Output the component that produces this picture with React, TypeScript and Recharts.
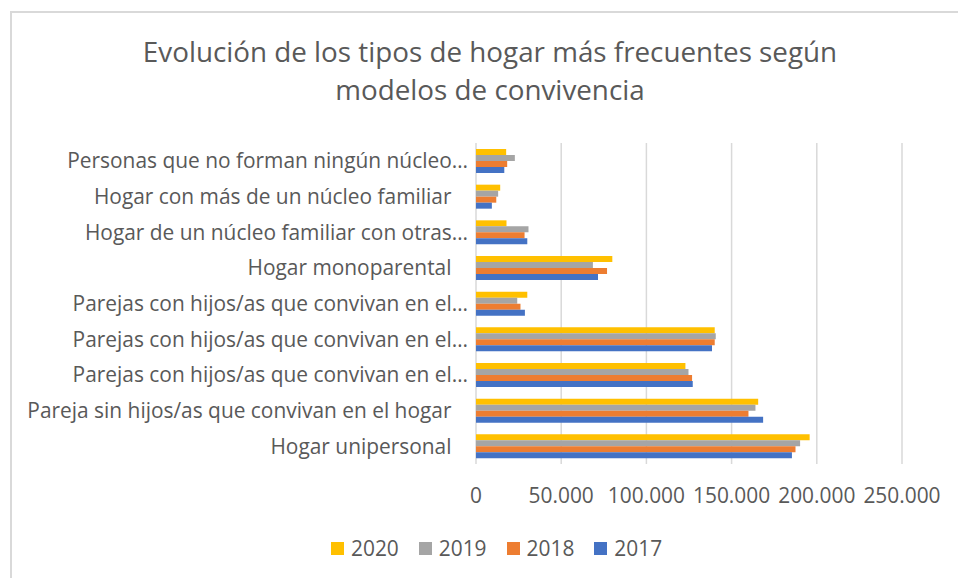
import { BarChart, Bar, XAxis, YAxis, CartesianGrid } from "recharts";

const categories = [
  "Personas que no forman ningún núcleo…",
  "Hogar con más de un núcleo familiar",
  "Hogar de un núcleo familiar con otras…",
  "Hogar monoparental",
  "Parejas con hijos/as que convivan en el…",
  "Parejas con hijos/as que convivan en el…",
  "Parejas con hijos/as que convivan en el…",
  "Pareja sin hijos/as que convivan en el hogar",
  "Hogar unipersonal",
];

const values2020 = [17700, 14200, 17900, 80000, 30100, 140100, 122900, 165600, 195800];
const values2019 = [22800, 13000, 30800, 68600, 24200, 140700, 124700, 164000, 190200];
const values2018 = [18300, 11900, 28500, 76900, 26100, 140100, 126800, 159900, 187500];
const values2017 = [16600, 9300, 30100, 71600, 28700, 138500, 127200, 168500, 185400];

const years = ["2020", "2019", "2018", "2017"];
const colors = ["#FFC000", "#A5A5A5", "#ED7D31", "#4472C4"];
const xTicks = [0, 50000, 100000, 150000, 200000, 250000];

const data = categories.map((name, i) => ({
  name,
  "2020": values2020[i],
  "2019": values2019[i],
  "2018": values2018[i],
  "2017": values2017[i],
}));

const FONT = "'Open Sans', sans-serif";
const TEXT = "#595959";

const fmt = (v: number) => String(v).replace(/\B(?=(\d{3})+(?!\d))/g, ".");

// excel puts the cut labels a bit further right (the "…" hangs past the others)
const CategoryTick = (props: any) => {
  const { x, y, payload } = props;
  const label: string = payload.value;
  const cut = label.endsWith("…");
  return (
    <text
      x={cut ? x : x - 16.5}
      y={y}
      dy="0.355em"
      textAnchor="end"
      fill={TEXT}
      fontSize={20.9}
      fontFamily={FONT}
    >
      {label}
    </text>
  );
};

export default function App() {
  return (
    <div
      style={{
        position: "absolute",
        top: 0,
        left: 0,
        width: 958,
        height: 578,
        overflow: "hidden",
        background: "#fff",
        fontFamily: FONT,
      }}
    >
      <div
        style={{
          position: "absolute",
          left: 10,
          top: 11,
          width: 1000,
          height: 700,
          border: "2px solid #D9D9D9",
        }}
      />
      <div
        style={{
          position: "absolute",
          left: 10,
          top: 32,
          width: 960,
          textAlign: "center",
          fontSize: 27.8,
          lineHeight: "38px",
          color: TEXT,
        }}
      >
        Evolución de los tipos de hogar más frecuentes según
        <br />
        modelos de convivencia
      </div>
      <div style={{ position: "absolute", top: 0, left: 0 }}>
        <BarChart
          width={958}
          height={578}
          data={data}
          layout="vertical"
          margin={{ top: 143, right: 56, bottom: 74, left: 0 }}
          barGap={0}
          barSize={6}
        >
          <CartesianGrid horizontal={false} stroke="#D9D9D9" strokeWidth={1.5} />
          <XAxis
            type="number"
            domain={[0, 250000]}
            ticks={xTicks}
            tickFormatter={fmt}
            axisLine={false}
            tickLine={false}
            height={40}
            tickMargin={18}
            tick={{ fill: TEXT, fontSize: 20.9, fontFamily: FONT }}
          />
          <YAxis
            type="category"
            dataKey="name"
            width={476}
            axisLine={false}
            tickLine={false}
            interval={0}
            tick={<CategoryTick />}
          />
          {years.map((y, i) => (
            <Bar key={y} dataKey={y} fill={colors[i]} isAnimationActive={false} />
          ))}
        </BarChart>
      </div>
      <div
        style={{
          position: "absolute",
          left: 331,
          top: 538,
          display: "flex",
          alignItems: "center",
          fontSize: 20.9,
          lineHeight: 1,
          color: TEXT,
        }}
      >
        {years.map((y, i) => (
          <div key={y} style={{ display: "flex", alignItems: "center", marginRight: 20 }}>
            <span style={{ width: 13, height: 13, background: colors[i], marginRight: 7 }} />
            <span>{y}</span>
          </div>
        ))}
      </div>
    </div>
  );
}
